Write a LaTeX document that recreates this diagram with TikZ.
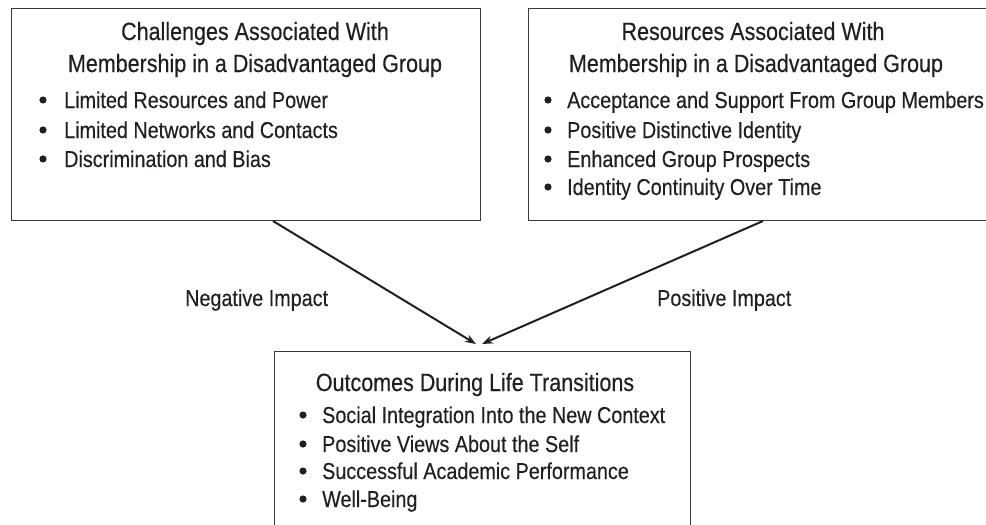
\documentclass[tikz,border=0pt]{standalone}
\usepackage{fontspec}
\setmainfont{Liberation Sans}[FakeStretch=0.86,FakeBold=0.35]
\usetikzlibrary{arrows.meta}
\definecolor{ink}{HTML}{231F20}
\definecolor{frame}{HTML}{3A3A3A}
\tikzset{
  box/.style={draw=frame, line width=1.4pt, rectangle, inner sep=0pt, anchor=north west},
  ttl/.style={anchor=base, inner sep=0pt, text=ink, font=\fontsize{25}{30}\selectfont},
  itm/.style={anchor=base west, inner sep=0pt, text=ink, font=\fontsize{23}{28}\selectfont},
  lbl/.style={anchor=base west, inner sep=0pt, text=ink, font=\fontsize{23}{28}\selectfont},
  conn/.style={draw=ink, line width=2pt, -{Stealth[length=11pt,width=8pt]}},
  dot/.style={fill=ink}
}
\begin{document}
\begin{tikzpicture}[x=1pt,y=-1pt]
\useasboundingbox (0,0) rectangle (986,525);
\clip (0,0) rectangle (986,525);
% boxes
\node[box, minimum width=469pt, minimum height=212pt] (lbox) at (11,8) {};
\node[box, minimum width=470pt, minimum height=212pt] (rbox) at (528,8) {};
\node[box, minimum width=416pt, minimum height=200pt] (bbox) at (274,351) {};
% left box text
\node[ttl] (lt1) at (255,40) {Challenges Associated With};
\node[ttl] (lt2) at (255,72) {Membership in a Disadvantaged Group};
\node[itm] (l1) at (64,108) {Limited Resources and Power};
\node[itm] (l2) at (64,138) {Limited Networks and Contacts};
\node[itm] (l3) at (64,167) {Discrimination and Bias};
\foreach \y in {108,138,167} \fill[dot] (43,\y-8) circle (3.6pt);
% right box text
\node[ttl] (rt1) at (753,40) {Resources Associated With};
\node[ttl] (rt2) at (756,72) {Membership in a Disadvantaged Group};
\node[itm] (r1) at (567,108) {Acceptance and Support From Group Members};
\node[itm] (r2) at (567,138) {Positive Distinctive Identity};
\node[itm] (r3) at (567,167) {Enhanced Group Prospects};
\node[itm] (r4) at (567,195) {Identity Continuity Over Time};
\foreach \y in {108,138,167,195} \fill[dot] (548,\y-8) circle (3.6pt);
% bottom box text
\node[ttl] (bt1) at (475,391) {Outcomes During Life Transitions};
\node[itm] (b1) at (322,423) {Social Integration Into the New Context};
\node[itm] (b2) at (322,452) {Positive Views About the Self};
\node[itm] (b3) at (322,479) {Successful Academic Performance};
\node[itm] (b4) at (322,507) {Well-Being};
\foreach \y in {423,452,479,507} \fill[dot] (303,\y-8) circle (3.6pt);
% connectors
\coordinate (ls) at (273,221);
\coordinate (rs) at (763,221);
\coordinate (le) at (476,344);
\coordinate (re) at (482,344);
\draw[conn] (ls) -- (le);
\draw[conn] (rs) -- (re);
% labels
\node[lbl] (neg) at (185,306) {Negative Impact};
\node[lbl] (pos) at (657,306) {Positive Impact};
\end{tikzpicture}
\end{document}
